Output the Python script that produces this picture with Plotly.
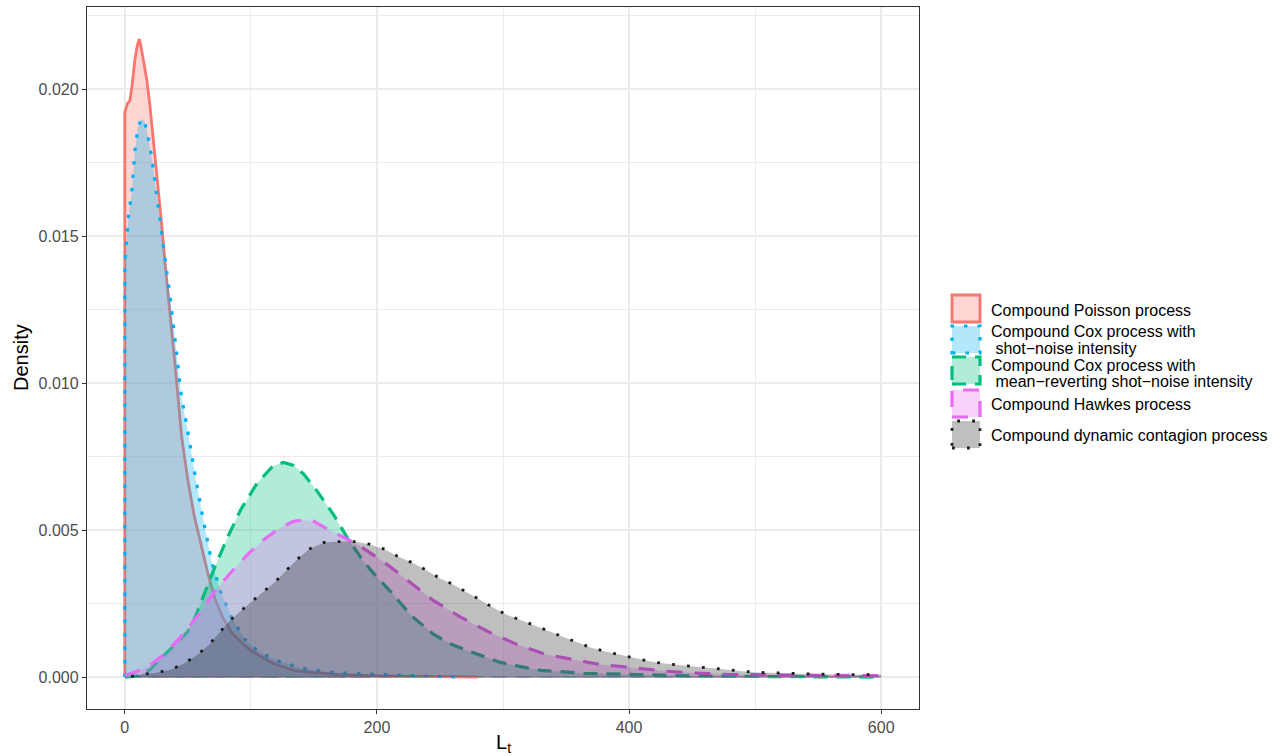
import plotly.graph_objects as go

# ---------------- data ----------------
series_names = [
    "Compound Poisson process",
    "Compound Cox process with\n shot\u2212noise intensity",
    "Compound Cox process with\n mean\u2212reverting shot\u2212noise intensity",
    "Compound Hawkes process",
    "Compound dynamic contagion process",
]

poisson_x = [0, 0, 2, 4, 6, 8, 10, 11.5, 13, 15, 17.5, 20, 24, 29, 33, 37, 41, 45, 50, 55, 60,
             66, 72, 78, 85, 92, 100, 108, 116, 124, 135, 150, 170, 200, 240, 280]
poisson_y = [0.0, 0.0192, 0.0195, 0.0196, 0.0202, 0.0210, 0.0215, 0.0217, 0.0214, 0.0209, 0.0203,
             0.0194, 0.0177, 0.0155, 0.0136, 0.0119, 0.0101, 0.0082, 0.0067, 0.0055, 0.0046,
             0.0035, 0.0026, 0.0020, 0.0015, 0.0012, 0.0009, 0.0007, 0.0005, 0.00037, 0.00022,
             0.00015, 0.00008, 0.00004, 0.00001, 0.0]

shot_x = [0, 0, 1.5, 3, 5.5, 8, 10.5, 13.4, 15.5, 17.4, 21.3, 24, 27.9, 30.6, 33, 36, 39.8, 42.4,
          45, 49, 52, 56, 62, 69, 76, 85, 95, 105, 118, 140, 166, 195, 230, 270]
shot_y = [0.0, 0.0141, 0.0149, 0.0157, 0.0165, 0.0179, 0.0187, 0.0190, 0.0189, 0.0186, 0.0177,
          0.0168, 0.0157, 0.0147, 0.0138, 0.0129, 0.0115, 0.0104, 0.0095, 0.0086, 0.0078,
          0.0068, 0.0054, 0.0039, 0.0029, 0.0020, 0.0013, 0.0009, 0.0006, 0.0003, 0.00015,
          0.00009, 0.00004, 0.0]

mr_x = [0, 10, 20, 30, 40, 50, 56, 63, 71, 82, 92, 105, 118, 126, 134, 142, 153, 166, 177,
        190, 200, 211, 227, 245, 260, 272, 285, 298, 315, 330, 364, 403, 450, 500, 550, 600]
mr_y = [0.0, 0.00004, 0.00025, 0.0007, 0.0011, 0.00155, 0.00205, 0.0028, 0.0037, 0.0048,
        0.0057, 0.0066, 0.0072, 0.0073, 0.0072, 0.0069, 0.0063, 0.0055, 0.0047, 0.0039,
        0.0034, 0.0029, 0.0021, 0.00145, 0.0011, 0.0009, 0.0007, 0.0005, 0.00035, 0.00023,
        0.00013, 0.00009, 0.00004, 0.00002, 0.00001, 0.0]

hawkes_x = [0, 10, 19, 32, 45, 58, 71, 85, 98, 111, 124, 134, 142, 150, 158, 171, 185, 206,
            227, 245, 266, 288, 310, 334, 358, 377, 403, 429, 452, 477, 520, 560, 600]
hawkes_y = [0.00005, 0.0002, 0.00037, 0.0008, 0.0014, 0.0021, 0.0029, 0.0036, 0.0042, 0.0047,
            0.0051, 0.0053, 0.00535, 0.0053, 0.0051, 0.0048, 0.0045, 0.0039, 0.0032, 0.0026,
            0.00205, 0.00155, 0.00113, 0.00077, 0.00058, 0.00043, 0.00032, 0.0002, 0.00014,
            0.00009, 0.00007, 0.00006, 0.00005]

dcp_x = [5, 13, 25, 37, 48, 58, 67, 75, 83, 92, 102, 111, 120, 129, 137, 146, 158, 170, 182,
         194, 206, 216, 228, 239, 249, 260, 270, 281, 291, 302, 314, 324, 336, 348, 359, 370,
         382, 394, 406, 418, 430, 442, 453, 467, 478, 490, 502, 515, 527, 539, 551, 564, 576,
         588, 600]
dcp_y = [0.00002, 0.00009, 0.00015, 0.00026, 0.00049, 0.00077, 0.00111, 0.00151, 0.00191,
         0.00225, 0.00262, 0.00293, 0.00327, 0.00367, 0.00401, 0.00435, 0.00458, 0.00461,
         0.00461, 0.00452, 0.00435, 0.00412, 0.00389, 0.00364, 0.00338, 0.00316, 0.00293,
         0.00265, 0.00239, 0.00214, 0.00194, 0.00176, 0.00157, 0.00136, 0.00117, 0.00100,
         0.00086, 0.00075, 0.00064, 0.00052, 0.00045, 0.00041, 0.00035, 0.00030, 0.00024,
         0.00020, 0.00016, 0.00014, 0.00013, 0.00011, 0.00010, 0.00009, 0.00009, 0.00008,
         0.00008]

x_ticks = [0, 200, 400, 600]
y_ticks = [0.000, 0.005, 0.010, 0.015, 0.020]

# ---------------- styles ----------------
line_colors = ["#F8766D", "#00B0F6", "#00BF7D", "#E76BF3", "#1c1c1c"]
fill_colors = ["rgba(248,118,109,0.3)", "rgba(0,176,246,0.3)", "rgba(0,191,125,0.3)",
               "rgba(231,107,243,0.3)", "rgba(0,0,0,0.25)"]
dashes = ["solid", "3.5px,10px", "14px,9px", "16px,12px", "2.8px,12.2px"]
widths = [2.8, 3.2, 3.2, 3.2, 2.8]

xs = [poisson_x, shot_x, mr_x, hawkes_x, dcp_x]
ys = [poisson_y, shot_y, mr_y, hawkes_y, dcp_y]

fig = go.Figure()

# thin baseline outline under the densities (as in ggplot's density outline)
for i in range(5):
    fig.add_trace(go.Scatter(
        x=[xs[i][0], xs[i][-1]], y=[0, 0], mode="lines",
        line=dict(color=line_colors[i], width=0.8, dash=dashes[i] if i != 4 else "solid"),
        showlegend=False, hoverinfo="skip", opacity=0.6))

for i in range(5):
    fig.add_trace(go.Scatter(
        x=xs[i], y=ys[i], mode="lines", fill="tozeroy", fillcolor=fill_colors[i],
        line=dict(color=line_colors[i], width=widths[i], dash=dashes[i]),
        name=series_names[i].replace("\n", " "), showlegend=False, hoverinfo="skip"))

# panel geometry in pixels
W, H = 1280, 756
L, R, T, B = 87, 919, 7, 709
pw, ph = R - L, B - T


def px(xp):
    return (xp - L) / pw


def py(yp):
    return (B - yp) / ph


font_family = "Liberation Sans, Arial, Helvetica, sans-serif"

shapes = []
annotations = []
# manual legend (ggplot-style square keys)
key_tops = [295, 326, 357, 390, 421]
text_lines = [[310], [331.5, 348.5], [365, 381.5], [404], [435]]
for i in range(5):
    t = key_tops[i]
    shapes.append(dict(type="rect", xref="paper", yref="paper",
                       x0=px(952), x1=px(980), y0=py(t + 27), y1=py(t),
                       fillcolor=fill_colors[i],
                       line=dict(color=line_colors[i], width=widths[i], dash=dashes[i])))
    parts = series_names[i].split("\n")
    for part, yl in zip(parts, text_lines[i]):
        annotations.append(dict(xref="paper", yref="paper", x=px(989), y=py(yl),
                                text=part, showarrow=False, xanchor="left", yanchor="middle",
                                font=dict(family=font_family, size=16, color="black")))

# axis titles
annotations.append(dict(xref="paper", yref="paper", x=px(503), y=py(743),
                        text="L<sub>t</sub>", showarrow=False, xanchor="center",
                        yanchor="middle", font=dict(family=font_family, size=20, color="black")))
annotations.append(dict(xref="paper", yref="paper", x=px(21), y=py(358),
                        text="Density", showarrow=False, textangle=-90, xanchor="center",
                        yanchor="middle", font=dict(family=font_family, size=20, color="black")))

fig.update_layout(
    width=W, height=H,
    margin=dict(l=L, r=W - R, t=T, b=H - B, pad=0),
    paper_bgcolor="white", plot_bgcolor="white",
    showlegend=False,
    shapes=shapes, annotations=annotations,
    font=dict(family=font_family),
)

fig.update_xaxes(
    range=[-30, 630], tickvals=x_ticks, ticktext=[str(v) for v in x_ticks],
    showgrid=True, gridcolor="#ebebeb", gridwidth=1.6,
    minor=dict(showgrid=True, gridcolor="#ebebeb", gridwidth=0.8, dtick=100, tick0=0),
    zeroline=False, showline=True, mirror=True, linecolor="#333333", linewidth=1.3,
    ticks="outside", ticklen=4, tickwidth=1.2, tickcolor="#333333",
    tickfont=dict(family=font_family, size=16, color="#4d4d4d"),
)
fig.update_yaxes(
    range=[-0.001085, 0.02279], tickvals=y_ticks, ticktext=["%.3f" % v for v in y_ticks],
    showgrid=True, gridcolor="#ebebeb", gridwidth=1.6,
    minor=dict(showgrid=True, gridcolor="#ebebeb", gridwidth=0.8, dtick=0.0025, tick0=0),
    zeroline=False, showline=True, mirror=True, linecolor="#333333", linewidth=1.3,
    ticks="outside", ticklen=4, tickwidth=1.2, tickcolor="#333333",
    tickfont=dict(family=font_family, size=16, color="#4d4d4d"),
)

fig.write_html("out.html")
